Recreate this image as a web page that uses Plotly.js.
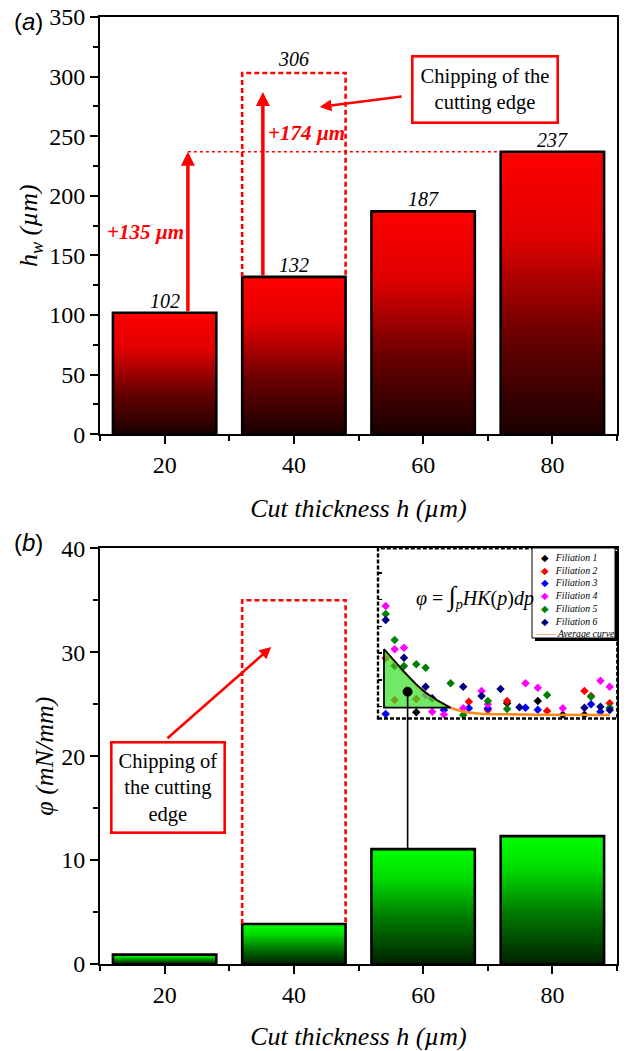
<!DOCTYPE html>
<html>
<head>
<meta charset="utf-8">
<script src="https://cdn.plot.ly/plotly-3.0.1.min.js"></script>
<style>html,body{margin:0;padding:0;background:#fff;}#chart{width:629px;height:1051px;}</style>
</head>
<body>
<div id="chart"></div>
<script>
// ---------------- data ----------------
const cutThickness = [20, 40, 60, 80];
const hwValues = [102, 132, 187, 237];
const hwLabels = ['102', '132', '187', '237'];
const phiValues = [0.9, 3.85, 11.05, 12.3];
const chippedHwLabel = '306';
const chippedHwTop = 303;
const chippedPhiTop = 35;
const gainLabels = ['+135 µm', '+174 µm'];
const arrowTops = [237, 287];
const arrowX = [23.6, 35.2];
const connectorTop = 26.2;

// inset (profile of HK along depth, arbitrary units)
const filNames = ['Filiation 1', 'Filiation 2', 'Filiation 3', 'Filiation 4', 'Filiation 5', 'Filiation 6'];
const filColors = ['#000000', '#ff0000', '#0000ff', '#ff00ff', '#008000', '#000080'];
const fil1x = [16.7, 38.3, 129.3, 160, 185, 206.7];
const fil1y = [50.3, 3.7, 12.7, 15, 1.3, 1.3];
const fil2x = [7.7, 16.7, 38.3, 91, 110, 129.3, 169.3, 206.7, 213.3, 232];
const fil2y = [57.7, 16, 17, 14.3, 6, 15, 5, 25, 20, 12.7];
const fil3x = [7.7, 66, 91, 110, 147.7, 160, 213.3, 222.7];
const fil3y = [2, 6, 7.7, 7.7, 8.3, 6.3, 11.7, 4.3];
const fil4x = [7.7, 16.7, 26, 47.7, 54.3, 66, 85.3, 103.7, 110, 147.7, 160, 185, 222.7, 232];
const fil4y = [110, 66.7, 68.3, 21, 4.3, 1.5, 7.7, 25, 11.7, 32.7, 28.3, 7.7, 35.3, 29.3];
const fil5x = [7.7, 16.7, 26, 38.3, 47.7, 72.7, 85.3, 110, 129.3, 169.3, 213.3, 232];
const fil5y = [102, 76, 50, 51.7, 48.3, 32.7, 1, 15, 7, 21, 19.3, 8.3];
const fil6x = [7.7, 26, 47.7, 54.3, 85.3, 103.7, 122.7, 141.7, 206.7, 222.7, 232];
const fil6y = [96, 58.3, 29.3, 17.7, 29.3, 20, 27, 8.7, 8.3, 9.3, 6];
const avgX = [6, 16.7, 26, 38.3, 47.7, 59.3, 72.7, 86, 102.7, 129.3, 162.7, 232];
const avgY = [66, 53.7, 43.3, 31, 22.7, 15, 8.3, 4.3, 2.3, 1.7, 1.3, 1];
const integX = [6, 16.7, 26, 38.3, 47.7, 59.3, 72.7];
const integY = [67, 54.3, 44.3, 31.7, 23.3, 15.7, 8.3];

// ---------------- helpers ----------------
const BW = 16;
const serif = 'Liberation Serif, Tinos, Times New Roman, DejaVu Serif, serif';
const sans = 'Liberation Sans, Arimo, Arial, DejaVu Sans, sans-serif';
function barTrace(c, v, xa, ya, scale) {
  return {
    type: 'scatter', mode: 'lines', xaxis: xa, yaxis: ya,
    x: [c - BW / 2, c - BW / 2, c + BW / 2, c + BW / 2, c - BW / 2],
    y: [0, v, v, 0, 0],
    fill: 'toself',
    fillgradient: {type: 'vertical', colorscale: scale},
    line: {color: '#000', width: 2.6},
    hoverinfo: 'x+y', showlegend: false
  };
}
const redScale = [[0, '#1a0000'], [0.35, '#6a0000'], [0.7, '#e00000'], [1, '#ff0000']];
const greenScale = [[0, '#002200'], [0.4, '#007a00'], [0.75, '#00dd00'], [1, '#00ff00']];

const traces = [];
cutThickness.forEach((c, i) => traces.push(barTrace(c, hwValues[i], 'x', 'y', redScale)));
cutThickness.forEach((c, i) => traces.push(barTrace(c, phiValues[i], 'x2', 'y2', greenScale)));

const filX = [fil1x, fil2x, fil3x, fil4x, fil5x, fil6x];
const filY = [fil1y, fil2y, fil3y, fil4y, fil5y, fil6y];
filNames.forEach((n, i) => traces.push({
  type: 'scatter', mode: 'markers', name: n, xaxis: 'x3', yaxis: 'y3',
  x: filX[i], y: filY[i],
  marker: {symbol: 'diamond', size: 6.5, color: filColors[i]}, showlegend: false
}));
traces.push({
  type: 'scatter', mode: 'lines', name: 'Average curve', xaxis: 'x3', yaxis: 'y3',
  x: avgX, y: avgY, line: {color: '#ff8a1c', width: 2.6, shape: 'spline'}, showlegend: false
});
traces.push({
  type: 'scatter', mode: 'lines', xaxis: 'x3', yaxis: 'y3',
  x: integX.concat([integX[integX.length - 1], integX[0], integX[0]]),
  y: integY.concat([integY[integY.length - 1], integY[integY.length - 1], integY[0]]),
  fill: 'toself', fillcolor: 'rgba(60,225,40,0.72)',
  line: {color: '#000', width: 1.8}, showlegend: false, hoverinfo: 'skip'
});

// ---------------- layout ----------------
const W = 629, H = 1051;
const mL = 100, mR = 12, mT = 17, mB = 87;
const pw = W - mL - mR, ph = H - mT - mB;
const px2fx = px => (px - mL) / pw;
const px2fy = py => (H - mB - py) / ph;

const tickFont = {family: serif, size: 24, color: '#000'};
const titleFont = {family: serif, size: 26, color: '#000'};
function xAx(anchor) {
  return {
    anchor: anchor, domain: [0, 1], range: [10, 90], tick0: 0, dtick: 20,
    ticks: 'outside', ticklen: 8, tickwidth: 2, tickcolor: '#000',
    minor: {dtick: 10, tick0: 0, ticks: 'outside', ticklen: 5, tickwidth: 2, tickcolor: '#000'},
    showline: true, linewidth: 2, linecolor: '#000', mirror: true,
    showgrid: false, zeroline: false, tickfont: tickFont,
    title: {text: '<i>Cut thickness h (µm)</i>', font: titleFont, standoff: 22}
  };
}
function yAx(anchor, dom, rng, dt, title, standoff) {
  return {
    anchor: anchor, domain: dom, range: rng, dtick: dt, tick0: 0,
    ticks: 'outside', ticklen: 8, tickwidth: 2, tickcolor: '#000',
    minor: {dtick: dt / 2, ticks: 'outside', ticklen: 5, tickwidth: 2, tickcolor: '#000'},
    showline: true, linewidth: 2, linecolor: '#000', mirror: true,
    showgrid: false, zeroline: false, tickfont: tickFont,
    title: {text: title, font: titleFont, standoff: standoff}
  };
}

const insetL = 378, insetR = 617.3, insetT = 548.3, insetB = 718.5;

const shapes = [];
function dashedOpen(xa, ya, x0, x1, yb, yt) {
  return {type: 'path', xref: xa, yref: ya, layer: 'above',
    path: `M${x0},${yb} L${x0},${yt} L${x1},${yt} L${x1},${yb}`,
    line: {color: '#ff0000', width: 2.6, dash: '5px,3px'}};
}
shapes.push(dashedOpen('x', 'y', cutThickness[1] - BW / 2, cutThickness[1] + BW / 2, hwValues[1], chippedHwTop));
shapes.push(dashedOpen('x2', 'y2', cutThickness[1] - BW / 2, cutThickness[1] + BW / 2, phiValues[1], chippedPhiTop));
shapes.push({type: 'line', xref: 'x', yref: 'y', layer: 'above',
  x0: arrowX[0], x1: cutThickness[3] - BW / 2, y0: hwValues[3], y1: hwValues[3],
  line: {color: '#ff0000', width: 1.5, dash: 'dot'}});
shapes.push({type: 'line', xref: 'x2', yref: 'y2', layer: 'above',
  x0: 57.6, x1: 57.6, y0: phiValues[2], y1: connectorTop, line: {color: '#000', width: 1.6}});
shapes.push({type: 'circle', xref: 'x2', yref: 'y2', layer: 'above',
  xsizemode: 'pixel', ysizemode: 'pixel', xanchor: 57.6, yanchor: connectorTop,
  x0: -4.5, x1: 4.5, y0: -4.5, y1: 4.5, fillcolor: '#000', line: {color: '#000', width: 1}});
shapes.push({type: 'rect', xref: 'paper', yref: 'paper', layer: 'above',
  x0: px2fx(insetL), x1: px2fx(insetR), y0: px2fy(insetB), y1: px2fy(insetT),
  line: {color: '#000', width: 2.4, dash: '4px,2px'}});
shapes.push({type: 'rect', xref: 'paper', yref: 'paper', layer: 'above',
  x0: px2fx(535), x1: px2fx(618), y0: px2fy(641), y1: px2fy(551),
  fillcolor: '#000', line: {width: 0}});
shapes.push({type: 'rect', xref: 'paper', yref: 'paper', layer: 'above',
  x0: px2fx(532), x1: px2fx(615), y0: px2fy(638), y1: px2fy(548),
  fillcolor: '#fff', line: {color: '#000', width: 1}});

const annotations = [];
annotations.push({xref: 'paper', yref: 'paper', x: px2fx(28), y: px2fy(22), xanchor: 'center', yanchor: 'middle',
  text: '(<i>a</i>)', showarrow: false, font: {family: sans, size: 24, color: '#000'}});
annotations.push({xref: 'paper', yref: 'paper', x: px2fx(28), y: px2fy(542), xanchor: 'center', yanchor: 'middle',
  text: '(<i>b</i>)', showarrow: false, font: {family: sans, size: 24, color: '#000'}});
cutThickness.forEach((c, i) => annotations.push({
  xref: 'x', yref: 'y', x: c, y: hwValues[i], xanchor: 'center', yanchor: 'bottom', yshift: -1,
  text: '<i>' + hwLabels[i] + '</i>', showarrow: false, font: {family: serif, size: 20, color: '#000'}
}));
annotations.push({xref: 'x', yref: 'y', x: cutThickness[1], y: chippedHwTop, xanchor: 'center', yanchor: 'bottom', yshift: 1,
  text: '<i>' + chippedHwLabel + '</i>', showarrow: false, font: {family: serif, size: 20, color: '#000'}});
[0, 1].forEach(i => annotations.push({
  xref: 'x', yref: 'y', axref: 'x', ayref: 'y', x: arrowX[i], y: arrowTops[i],
  ax: arrowX[i], ay: hwValues[i], text: '', showarrow: true,
  arrowhead: 2, arrowsize: 0.8, arrowwidth: 3.5, arrowcolor: '#ff0000'
}));
annotations.push({xref: 'x', yref: 'y', x: 17.1, y: 170, xanchor: 'center', yanchor: 'middle',
  text: '<b><i>' + gainLabels[0] + '</i></b>', showarrow: false, font: {family: serif, size: 21, color: '#ff0000'}});
annotations.push({xref: 'x', yref: 'y', x: 41.9, y: 253, xanchor: 'center', yanchor: 'middle',
  text: '<b><i>' + gainLabels[1] + '</i></b>', showarrow: false, font: {family: serif, size: 21, color: '#ff0000'}});
annotations.push({xref: 'x', yref: 'y', x: 69.5, y: 289.5, xanchor: 'center', yanchor: 'middle',
  text: 'Chipping of the<br>cutting edge',
  showarrow: false, bgcolor: '#fff', bordercolor: '#ff0000', borderwidth: 2.6, borderpad: 7,
  font: {family: serif, size: 20.5, color: '#000'}});
annotations.push({xref: 'x', yref: 'y', axref: 'x', ayref: 'y', x: 44, y: 274.6, ax: 56.9, ay: 283.5,
  text: '', showarrow: true, arrowhead: 2, arrowsize: 0.9, arrowwidth: 2.6, arrowcolor: '#ff0000'});
annotations.push({xref: 'x2', yref: 'y2', x: 20.5, y: 17.0, xanchor: 'center', yanchor: 'middle',
  text: 'Chipping of<br>the cutting<br>edge',
  showarrow: false, bgcolor: '#fff', bordercolor: '#ff0000', borderwidth: 2.6, borderpad: 6,
  font: {family: serif, size: 20.5, color: '#000'}});
annotations.push({xref: 'x2', yref: 'y2', axref: 'x2', ayref: 'y2', x: 36.5, y: 30.5, ax: 20.2, ay: 21.6,
  text: '', showarrow: true, arrowhead: 2, arrowsize: 0.9, arrowwidth: 2.6, arrowcolor: '#ff0000'});
annotations.push({xref: 'paper', yref: 'paper', x: px2fx(475), y: px2fy(597), xanchor: 'center', yanchor: 'middle',
  text: '<i>φ</i> = <span style="font-size:27px">∫</span><sub><i>p</i></sub><i>HK</i>(<i>p</i>)<i>dp</i>',
  showarrow: false, font: {family: serif, size: 20, color: '#000'}});
const legLines = filNames.map((n, i) =>
  '<span style="color:' + filColors[i] + '">\u00a0\u00a0◆\u00a0\u00a0</span>\u00a0<i>' + n + '</i>');
legLines.push('<span style="color:#ff8a1c">——</span>\u00a0<i>Average curve</i>');
annotations.push({xref: 'paper', yref: 'paper', x: px2fx(533), y: px2fy(549.5), xanchor: 'left', yanchor: 'top',
  align: 'left', text: legLines.join('<br>'), showarrow: false,
  font: {family: serif, size: 9.8, color: '#000'}});

const layout = {
  width: W, height: H,
  margin: {l: mL, r: mR, t: mT, b: mB},
  paper_bgcolor: '#fff', plot_bgcolor: '#fff',
  showlegend: false,
  font: {family: serif, color: '#000'},
  xaxis: xAx('y'),
  yaxis: yAx('x', [px2fy(434.3), 1], [0, 350], 50, '<i>h<sub>w</sub> (µm)</i>', 4),
  xaxis2: xAx('y2'),
  yaxis2: yAx('x2', [0, px2fy(548.3)], [0, 40], 10, '<i>φ (mN/mm)</i>', 0),
  xaxis3: {anchor: 'y3', domain: [px2fx(insetL), px2fx(insetR)], range: [0, 239.3],
    showticklabels: false, ticks: '', showline: false, showgrid: false, zeroline: false},
  yaxis3: {anchor: 'x3', domain: [px2fy(insetB), px2fy(insetT)], range: [-2.5, 167.7],
    showticklabels: false, ticks: 'inside', ticklen: 4, tickwidth: 1.5, tickcolor: '#000',
    tick0: 9.5, dtick: 26.7, showline: false, showgrid: false, zeroline: false},
  shapes: shapes,
  annotations: annotations
};

Plotly.newPlot('chart', traces, layout, {displayModeBar: false, staticPlot: true});
</script>
</body>
</html>
